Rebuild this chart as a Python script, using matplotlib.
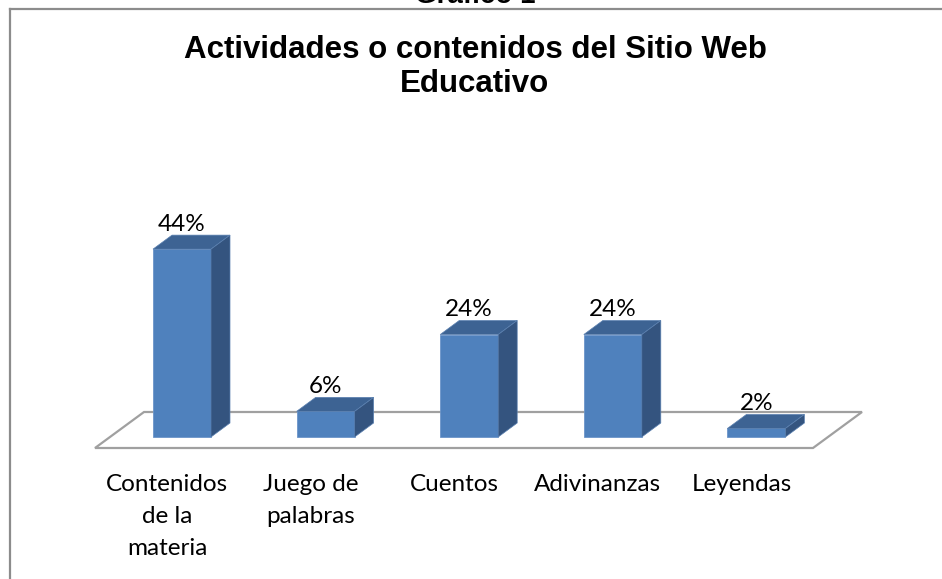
import matplotlib
matplotlib.use("Agg")
import matplotlib.pyplot as plt
from matplotlib.patches import Polygon
from matplotlib.lines import Line2D

# data
categories = ["Contenidos\nde la\nmateria", "Juego de\npalabras", "Cuentos", "Adivinanzas", "Leyendas"]
values = [44, 6, 24, 24, 2]
value_labels = ["44%", "6%", "24%", "24%", "2%"]

title = "Actividades o contenidos del Sitio Web\nEducativo"
top_caption = "Gráfico 1"

W, H = 942, 579
front_col = "#4F81BD"
top_col = "#3D6393"
side_col = "#34547F"

# pixel layout (x of first bar centre, baseline y from top, scales)
x0, y0 = 182, 437
px_cat, px_pct = 143.6, 4.27

fig = plt.figure(figsize=(W / 100, H / 100), dpi=100)
ax = fig.add_axes([0, 0, 1, 1])
ax.set_xlim(-x0 / px_cat, (W - x0) / px_cat)
ax.set_ylim(-(H - y0) / px_pct, y0 / px_pct)
ax.axis("off")

bw = 58 / px_cat          # bar width
dx = 19 / px_cat          # depth offset
dy = 14 / px_pct
lab_shift = -15 / px_cat  # category labels sit a bit left of the bars

# floor
fl = 95, 813, 144, 862
floor = Polygon([((fl[0] - x0) / px_cat, -(448 - y0) / px_pct),
                 ((fl[1] - x0) / px_cat, -(448 - y0) / px_pct),
                 ((fl[3] - x0) / px_cat, -(412 - y0) / px_pct),
                 ((fl[2] - x0) / px_cat, -(412 - y0) / px_pct)],
                closed=True, fill=False, edgecolor="#A0A0A0", lw=1.6, zorder=1)
ax.add_patch(floor)

xs = list(range(len(values)))
ax.bar(xs, values, width=bw, color=front_col, edgecolor="#6C95C9", lw=0.6, zorder=3)
for i, v in enumerate(values):
    l, r = i - bw / 2, i + bw / 2
    ax.add_patch(Polygon([(l, v), (r, v), (r + dx, v + dy), (l + dx, v + dy)],
                         closed=True, facecolor=top_col, edgecolor="#5A80B0", lw=0.5, zorder=3))
    ax.add_patch(Polygon([(r, 0), (r + dx, dy), (r + dx, v + dy), (r, v)],
                         closed=True, facecolor=side_col, edgecolor="#5A80B0", lw=0.5, zorder=3))
    ax.text(i, v + dy + 1.0, value_labels[i], ha="center", va="baseline",
            fontsize=17.5, family="Lato", zorder=4)
    ax.text(i + lab_shift, -(474 - y0) / px_pct, categories[i], ha="center", va="top",
            fontsize=17.5, family="Lato", linespacing=1.66)

# chart frame
fig.add_artist(Line2D([10 / W, 10 / W], [0, 1 - 9 / H], color="#8C8C8C", lw=1.6))
fig.add_artist(Line2D([10 / W, 1], [1 - 9 / H, 1 - 9 / H], color="#8C8C8C", lw=1.6))

fig.text(475 / W, 1 - 67 / H, title, ha="center", va="center", fontsize=22.5,
         fontweight="bold", family="Liberation Sans", linespacing=1.2)
fig.text(475 / W, 1 - 3 / H, top_caption, ha="center", va="baseline", fontsize=20,
         fontweight="bold", family="Liberation Sans")

fig.savefig("out.png", dpi=100)
